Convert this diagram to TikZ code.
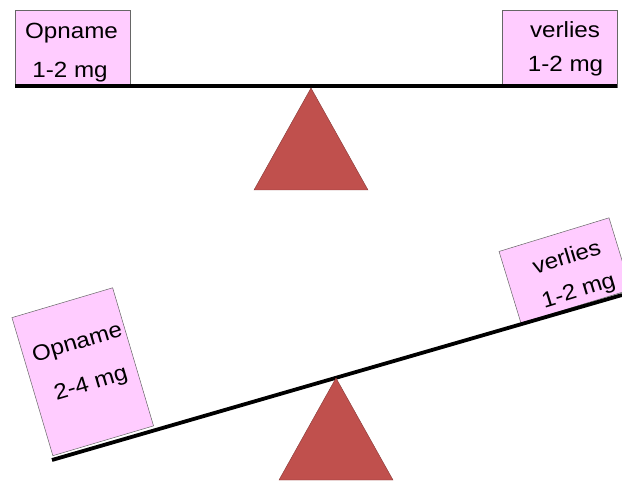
\documentclass[tikz,border=0pt]{standalone}
\usepackage{fontspec}
\setmainfont{Liberation Sans}[FakeStretch=1.1]
\definecolor{boxpink}{HTML}{FFCCFF}
\definecolor{pivotred}{HTML}{C0504D}
\begin{document}
\begin{tikzpicture}[x=1pt,y=-1pt,
  weight/.style={draw=gray!80!black, line width=0.5pt, fill=boxpink, inner sep=0pt},
  wtext/.style={anchor=base, inner sep=0pt, font=\fontsize{22}{22}\selectfont},
  beam/.style={line width=3.8pt, line cap=butt},
  pivot/.style={fill=pivotred, draw=pivotred!70!black, line width=0.4pt}]
\useasboundingbox (0,0) rectangle (622,481);
\clip (0,0) rectangle (622,481);

% ---- balanced scale ----
\node[weight, minimum width=115pt, minimum height=77pt] (inA) at (72.5,48.5) {};
\node[wtext] (inAt) at (71.5,38.5) {Opname};
\node[wtext] (inAv) at (70,77.7) {1-2 mg};

\node[weight, minimum width=115pt, minimum height=77pt] (outA) at (559.5,48.5) {};
\node[wtext] (outAt) at (565,37.7) {verlies};
\node[wtext] (outAv) at (565.5,72) {1-2 mg};

\coordinate (beamAl) at (15,86);
\coordinate (beamAr) at (617,86);
\draw[beam] (beamAl) -- (beamAr);

\coordinate (tipA) at (311,88);
\draw[pivot] (tipA) -- (254,190) -- (368,190) -- cycle;

% ---- tilted scale ----
\begin{scope}[shift={(82.75,371.75)}, rotate=16.5]
  \node[weight, minimum width=105pt, minimum height=144pt, rotate=16.5] (inB) at (0,0) {};
  \node[wtext, rotate=16.5] (inBt) at (3,-23) {Opname};
  \node[wtext, rotate=16.5] (inBv) at (4.5,20) {2-4 mg};
\end{scope}

\begin{scope}[shift={(565,270.5)}, rotate=17]
  \node[weight, minimum width=115pt, minimum height=75pt, rotate=17] (outB) at (0,0) {};
  \node[wtext, rotate=17] (outBt) at (5.4,-5) {verlies};
  \node[wtext, rotate=17] (outBv) at (7,30) {1-2 mg};
\end{scope}

\coordinate (beamBl) at (52,460);
\coordinate (beamBr) at (622,295);
\draw[beam] (beamBl) -- (beamBr);

\coordinate (tipB) at (336,378);
\draw[pivot] (tipB) -- (279,480) -- (393,480) -- cycle;
\end{tikzpicture}
\end{document}
